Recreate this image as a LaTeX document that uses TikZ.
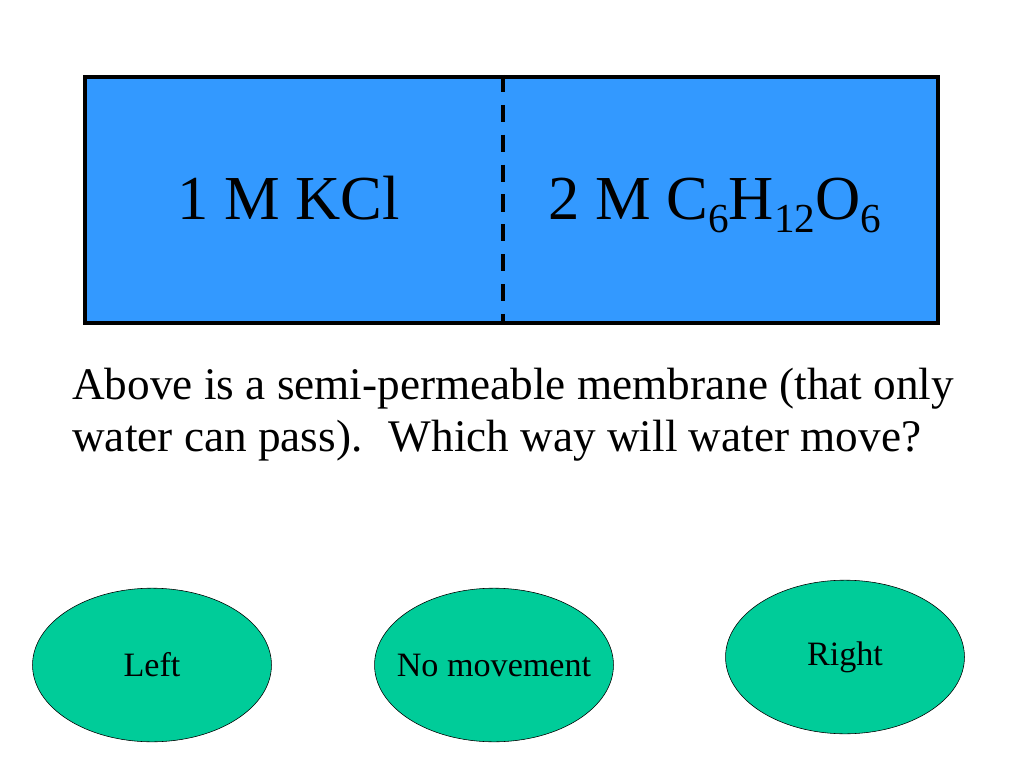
\documentclass[tikz,border=0pt]{standalone}
\usepackage{fontspec}
\setmainfont{Liberation Serif}
\usepackage{tikz}
\usetikzlibrary{shapes.geometric}

\definecolor{tankblue}{HTML}{3399FF}
\definecolor{choicegreen}{HTML}{00CC99}
\newcommand{\chemsub}[1]{\raisebox{-9pt}{\fontsize{29}{29}\selectfont #1}}

\tikzset{
    tank/.style={draw, line width=2.8pt, fill=tankblue, minimum width=599.8pt,
        minimum height=173pt, inner sep=0pt},
    membrane/.style={line width=2.8pt, dash pattern=on 12pt off 9pt},
    solution/.style={font=\fontsize{44}{50}\selectfont, anchor=base west, inner sep=0pt},
    question/.style={font=\fontsize{31.8}{36.6}\selectfont, anchor=north west, inner sep=0pt,
        align=left},
    choice/.style={ellipse, draw, thin, fill=choicegreen, minimum width=168pt,
        minimum height=108pt, inner sep=0pt,
        label={[font=\fontsize{24}{28}\selectfont]center:#1}}
}

\begin{document}
\begin{tikzpicture}[x=0.703125pt, y=-0.703125pt]
        \useasboundingbox (0,0) rectangle (1024,768);

        \node[tank] (tank) at (511.5,200) {}; \coordinate (mid) at (503,200);
        \draw[membrane] (tank.north -| mid) -- (tank.south -| mid);

        \node[solution] (kcl) at (177,220) {1 M KCl}; \node[solution]
        (glucose) at (548,220) {2 M C\chemsub{6}H\chemsub{12}O\chemsub{6}};

        \node[question] (text) at (72,368) {Above is a semi-permeable
            membrane (that only\\water can pass).~ Which way will water move?};

        \node[choice=Left] (left) at (152,665) {}; \node[choice=No movement]
        (none) at (494,665) {}; \node[choice=Right] (right) at (845,657) {};
    \end{tikzpicture}
\end{document}
